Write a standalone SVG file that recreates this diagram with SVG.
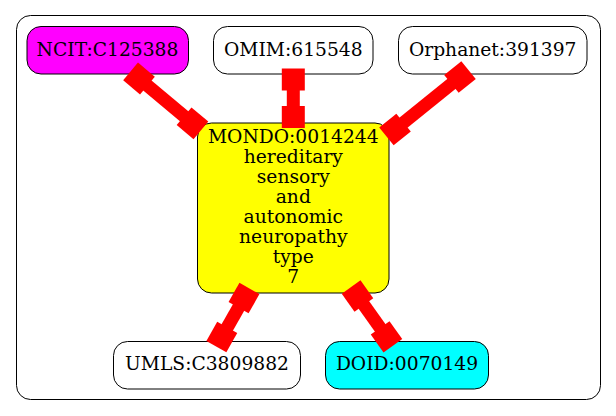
<svg xmlns="http://www.w3.org/2000/svg" xmlns:xlink="http://www.w3.org/1999/xlink" width="616" height="416" viewBox="0 0 616 416">
<style>
.node rect{stroke:#000;stroke-width:1}
text{font-family:"DejaVu Serif","Liberation Serif",serif;font-size:18.7px;fill:#000;text-anchor:middle}
.edge line{stroke:#ff0000;stroke-width:13}
.edge use{fill:#ff0000}
</style>
<defs>
<rect id="box" x="-11" y="-11.5" width="22" height="23"/>
</defs>
<rect x="16.5" y="15.5" width="584" height="384" rx="14" fill="#fff" stroke="#000" stroke-width="1"/>
<g id="NCIT_C125388" class="node">
<rect x="27" y="26.5" width="161.5" height="47.5" rx="14" fill="#ff00ff"/>
<text x="107.5" y="56">NCIT:C125388</text>
</g>
<g id="OMIM_615548" class="node">
<rect x="213.5" y="26.5" width="159.5" height="47.5" rx="14" fill="#fff"/>
<text x="293.3" y="56">OMIM:615548</text>
</g>
<g id="Orphanet_391397" class="node">
<rect x="398.5" y="26.5" width="188.5" height="47.5" rx="14" fill="#fff"/>
<text x="492.7" y="56">Orphanet:391397</text>
</g>
<g id="MONDO_0014244" class="node">
<rect x="197.5" y="123" width="191.5" height="170" rx="14" fill="#ffff00"/>
<text x="293.3" y="142.5">MONDO:0014244</text>
<text x="293.3" y="162.5">hereditary</text>
<text x="293.3" y="182.5">sensory</text>
<text x="293.3" y="202.5">and</text>
<text x="293.3" y="222.5">autonomic</text>
<text x="293.3" y="242.5">neuropathy</text>
<text x="293.3" y="262.5">type</text>
<text x="293.3" y="282.5">7</text>
</g>
<g id="UMLS_C3809882" class="node">
<rect x="113.5" y="341.5" width="187" height="47.5" rx="14" fill="#fff"/>
<text x="207" y="370">UMLS:C3809882</text>
</g>
<g id="DOID_0070149" class="node">
<rect x="325.5" y="341.5" width="163" height="47.5" rx="14" fill="#00ffff"/>
<text x="407" y="370">DOID:0070149</text>
</g>
<g id="edges" class="edge">
<line x1="139" y1="78.5" x2="192.5" y2="123.3"/>
<use xlink:href="#box" transform="translate(139 78.5) rotate(40)"/>
<use xlink:href="#box" transform="translate(192.5 123.3) rotate(40)"/>
<line x1="293.3" y1="79.5" x2="293.3" y2="117"/>
<use xlink:href="#box" transform="translate(293.3 79.5) rotate(90)"/>
<use xlink:href="#box" transform="translate(293.3 117) rotate(90)"/>
<line x1="460" y1="77" x2="395" y2="129.5"/>
<use xlink:href="#box" transform="translate(460 77) rotate(141.1)"/>
<use xlink:href="#box" transform="translate(395 129.5) rotate(141.1)"/>
<line x1="244" y1="298" x2="221.8" y2="337"/>
<use xlink:href="#box" transform="translate(244 298) rotate(119.6)"/>
<use xlink:href="#box" transform="translate(221.8 337) rotate(119.6)"/>
<line x1="357.5" y1="296" x2="386.5" y2="336.8"/>
<use xlink:href="#box" transform="translate(357.5 296) rotate(54.6)"/>
<use xlink:href="#box" transform="translate(386.5 336.8) rotate(54.6)"/>
</g>
</svg>
